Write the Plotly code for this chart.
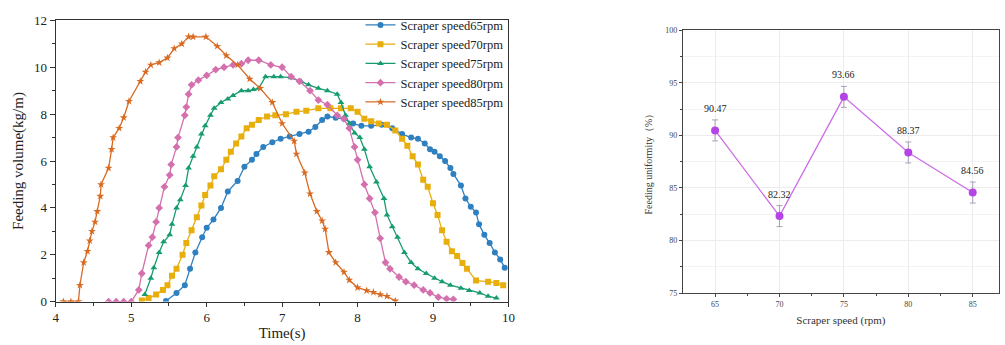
import plotly.graph_objects as go

# ---------------- Left chart data: feeding volume vs time ----------------
t65 = [5.46,5.60,5.71,5.78,5.85,5.94,6.00,6.09,6.19,6.28,6.41,6.50,6.60,6.66,6.75,6.87,6.98,7.10,7.23,7.35,7.44,7.53,7.60,7.71,7.82,7.94,8.05,8.18,8.32,8.46,8.59,8.71,8.80,8.89,8.96,9.02,9.09,9.16,9.23,9.27,9.37,9.43,9.50,9.57,9.61,9.68,9.75,9.82,9.89,9.95]
v65 = [0.03,0.37,0.70,1.40,2.10,2.75,3.15,3.50,4.00,4.70,5.15,5.75,6.05,6.30,6.60,6.80,6.95,7.05,7.15,7.25,7.45,7.75,7.90,7.85,7.80,7.60,7.50,7.50,7.55,7.40,7.15,7.00,6.95,6.75,6.50,6.40,6.20,6.00,5.70,5.45,4.95,4.40,4.05,3.80,3.30,2.85,2.50,2.10,1.80,1.45]

t70 = [5.14,5.23,5.33,5.42,5.48,5.54,5.60,5.68,5.73,5.80,5.87,5.93,5.98,6.05,6.10,6.19,6.26,6.32,6.39,6.46,6.53,6.60,6.69,6.80,6.91,7.05,7.19,7.32,7.48,7.64,7.78,7.91,8.00,8.09,8.18,8.28,8.39,8.50,8.59,8.66,8.73,8.80,8.87,8.93,9.00,9.06,9.12,9.18,9.25,9.32,9.39,9.45,9.57,9.73,9.84,9.93]
v70 = [0.05,0.15,0.30,0.50,0.70,1.10,1.40,2.00,2.50,3.05,3.60,4.10,4.55,4.95,5.35,5.65,6.05,6.40,6.75,7.05,7.40,7.55,7.75,7.90,7.95,8.00,8.10,8.15,8.25,8.25,8.25,8.25,8.10,7.80,7.70,7.60,7.55,7.30,6.95,6.65,6.20,5.85,5.20,4.90,4.20,3.70,3.05,2.55,2.15,1.95,1.65,1.40,0.90,0.85,0.80,0.70]

t75 = [5.18,5.26,5.30,5.37,5.43,5.51,5.54,5.60,5.65,5.72,5.76,5.82,5.87,5.93,5.98,6.05,6.10,6.19,6.28,6.35,6.46,6.55,6.62,6.69,6.78,6.89,6.98,7.12,7.25,7.35,7.48,7.60,7.73,7.78,7.84,7.89,7.96,8.03,8.09,8.16,8.25,8.35,8.39,8.46,8.53,8.62,8.71,8.80,8.91,9.02,9.12,9.23,9.37,9.48,9.62,9.73,9.84]
v75 = [0.30,1.00,1.45,2.10,2.55,2.85,3.30,4.00,4.35,4.95,5.70,6.20,6.60,7.15,7.50,7.95,8.25,8.50,8.65,8.80,9.00,9.00,9.05,9.10,9.60,9.60,9.60,9.55,9.40,9.25,9.10,9.00,8.85,8.50,7.95,7.60,7.20,7.00,6.50,5.75,5.10,4.40,3.70,3.20,2.75,2.10,1.67,1.40,1.20,1.00,0.85,0.70,0.57,0.47,0.37,0.23,0.15]

t80 = [4.70,4.80,4.90,5.00,5.10,5.14,5.23,5.28,5.33,5.37,5.44,5.51,5.53,5.60,5.62,5.71,5.73,5.76,5.80,5.89,6.00,6.12,6.23,6.35,6.46,6.55,6.69,6.85,7.00,7.12,7.23,7.37,7.48,7.60,7.73,7.82,7.89,7.96,8.00,8.09,8.16,8.23,8.30,8.37,8.43,8.55,8.64,8.75,8.87,8.96,9.07,9.18,9.27]
v80 = [0.00,0.00,0.00,0.00,0.50,1.20,2.40,2.75,3.40,4.00,4.90,5.40,5.85,6.60,7.00,7.95,8.30,8.85,9.25,9.45,9.65,9.90,10.00,10.10,10.15,10.30,10.30,10.10,10.00,9.60,9.40,9.00,8.60,8.40,7.95,7.80,7.40,6.60,6.05,5.00,4.40,3.80,2.70,1.67,1.40,1.05,0.85,0.70,0.50,0.37,0.19,0.12,0.10]

t85 = [4.10,4.20,4.30,4.32,4.37,4.42,4.45,4.48,4.52,4.55,4.59,4.60,4.70,4.74,4.76,4.84,4.90,4.97,5.12,5.19,5.26,5.37,5.48,5.57,5.67,5.76,5.82,5.99,6.14,6.26,6.41,6.57,6.71,6.87,7.00,7.16,7.19,7.30,7.37,7.46,7.53,7.57,7.62,7.71,7.82,7.89,8.00,8.12,8.21,8.30,8.39,8.50]
v85 = [0.00,0.00,0.00,0.70,1.67,2.15,2.60,3.00,3.40,3.85,4.50,5.00,5.70,6.50,7.00,7.40,7.85,8.55,9.40,9.80,10.10,10.20,10.40,10.80,11.00,11.30,11.30,11.30,10.90,10.50,10.10,9.50,9.10,8.50,7.60,6.85,6.30,5.50,4.60,3.85,3.45,3.10,2.10,1.67,1.26,0.92,0.60,0.47,0.40,0.30,0.23,0.03]

series_names = ["Scraper speed65rpm", "Scraper speed70rpm", "Scraper speed75rpm",
                "Scraper speed80rpm", "Scraper speed85rpm"]
series_t = [t65, t70, t75, t80, t85]
series_v = [v65, v70, v75, v80, v85]
series_colors = ["#2f80c0", "#e8ae0c", "#179c72", "#d470ae", "#d96a22"]
series_symbols = ["circle", "square", "triangle-up", "diamond", "star"]

# ---------------- Right chart data: feeding uniformity ----------------
speed_rpm = [65, 70, 75, 80, 85]
uniformity = [90.47, 82.32, 93.66, 88.37, 84.56]
uniformity_err = [1.0, 1.0, 1.0, 1.0, 1.0]
uniformity_labels = ["90.47", "82.32", "93.66", "88.37", "84.56"]

SERIF = "Liberation Serif, Times New Roman, serif"

fig = go.Figure()

for name, tx, vy, col, sym in zip(series_names, series_t, series_v, series_colors, series_symbols):
    fig.add_trace(go.Scatter(
        x=tx, y=vy, name=name, mode="lines+markers",
        line=dict(color=col, width=1.3),
        marker=dict(color=col, symbol=sym, size=6, line=dict(width=0)),
        xaxis="x", yaxis="y",
    ))

fig.add_trace(go.Scatter(
    x=speed_rpm, y=uniformity, mode="lines+markers", showlegend=False,
    line=dict(color="#cc6ee8", width=1.3),
    marker=dict(color="#b544e6", size=8),
    error_y=dict(type="data", array=uniformity_err, color="#9a8aa8", thickness=0.8, width=3),
    xaxis="x2", yaxis="y2",
))

for xv, yv, lab in zip(speed_rpm, uniformity, uniformity_labels):
    fig.add_annotation(x=xv, y=yv, xref="x2", yref="y2", text=lab, showarrow=False,
                       yshift=22, font=dict(family=SERIF, size=10, color="#222222"))

fig.update_layout(
    width=1005, height=345,
    margin=dict(l=0, r=0, t=0, b=0),
    paper_bgcolor="white", plot_bgcolor="white",
    font=dict(family=SERIF, color="#222222"),
    xaxis=dict(
        domain=[0.053, 0.5075], range=[4, 10], dtick=1, tick0=4,
        showline=True, linecolor="#333333", linewidth=1.2, mirror=True,
        ticks="outside", ticklen=4, tickcolor="#333333",
        minor=dict(ticks="outside", ticklen=3, dtick=0.5, tickcolor="#333333"),
        showgrid=False, zeroline=False,
        tickfont=dict(family=SERIF, size=13, color="#222222"),
        title=dict(text="Time(s)", font=dict(family=SERIF, size=15), standoff=0),
    ),
    yaxis=dict(
        domain=[0.1072, 0.9594], range=[0, 12], dtick=2,
        showline=True, linecolor="#333333", linewidth=1.2, mirror=True,
        ticks="outside", ticklen=5, tickcolor="#333333",
        minor=dict(ticks="outside", ticklen=3, dtick=1, tickcolor="#333333"),
        showgrid=False, zeroline=False,
        tickfont=dict(family=SERIF, size=13, color="#222222"),
        title=dict(text="Feeding volume(kg/m)", font=dict(family=SERIF, size=15), standoff=6),
    ),
    xaxis2=dict(
        domain=[0.6826, 1.0], range=[62.5, 87.04], tickvals=speed_rpm,
        showline=True, linecolor="#444444", linewidth=1.2, mirror=True,
        ticks="outside", ticklen=3, tickcolor="#444444",
        minor=dict(ticks="outside", ticklen=2, tickvals=[67.5, 72.5, 77.5, 82.5], tickcolor="#444444",
                   showgrid=False),
        showgrid=True, gridcolor="#ececec", gridwidth=1, zeroline=False,
        tickfont=dict(family=SERIF, size=8, color="#444444"),
        title=dict(text="Scraper speed (rpm)", font=dict(family=SERIF, size=11, color="#333333"), standoff=8),
        anchor="y2",
    ),
    yaxis2=dict(
        domain=[0.1333, 0.9296], range=[75, 100], dtick=5,
        showline=True, linecolor="#444444", linewidth=1.2, mirror=True,
        ticks="outside", ticklen=3, tickcolor="#444444",
        minor=dict(ticks="outside", ticklen=2, dtick=2.5, tickcolor="#444444",
                   showgrid=True, gridcolor="#f3f3f3"),
        showgrid=True, gridcolor="#ececec", gridwidth=1, zeroline=False,
        tickfont=dict(family=SERIF, size=8, color="#444444"),
        title=dict(text="Feeding uniformity（%）", font=dict(family=SERIF, size=10, color="#333333"), standoff=10),
        anchor="x2",
    ),
    legend=dict(
        x=0.5075, y=0.99, xanchor="right", yanchor="top",
        bgcolor="rgba(255,255,255,0)", borderwidth=0,
        font=dict(family=SERIF, size=12.5, color="#222222"),
        itemwidth=30, tracegroupgap=0,
    ),
)

fig.write_html("out.html")
